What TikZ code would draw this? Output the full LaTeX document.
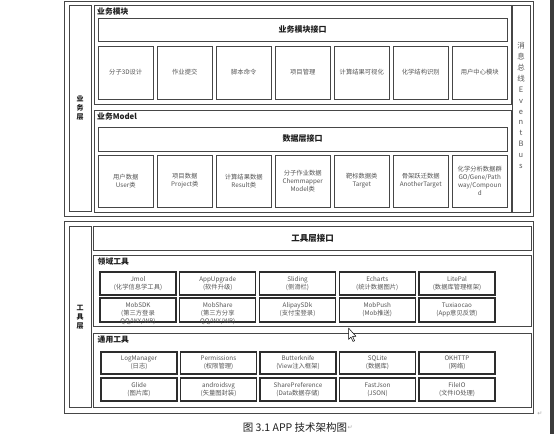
\documentclass[tikz,border=0pt]{standalone}
\usepackage{fontspec}
\setmainfont{Noto Sans CJK SC}
\newfontfamily\symf{DejaVu Sans}
\definecolor{linegray}{RGB}{70,70,70}
\definecolor{darkline}{RGB}{45,45,45}
\definecolor{tilegray}{RGB}{85,85,85}
\definecolor{titlec}{RGB}{30,30,30}
\definecolor{stripc}{RGB}{60,60,60}
\begin{document}
\begin{tikzpicture}[x=1pt,y=-1pt,
  frame/.style={draw=linegray, line width=0.8pt},
  tile/.style={draw=linegray, line width=0.8pt, inner sep=0pt, align=center, text=tilegray,
    font=\fontsize{6.3}{8}\selectfont, minimum width=55.5pt},
  ttile/.style={draw=darkline, line width=1.1pt, inner sep=0pt, align=center, text=tilegray,
    font=\fontsize{6.3}{8}\selectfont, minimum width=76pt},
  iface/.style={draw=linegray, line width=0.8pt, inner sep=0pt, align=center, text=titlec,
    font=\bfseries\fontsize{8}{9}\selectfont},
  boxtitle/.style={anchor=west, inner sep=0pt, text=titlec, font=\bfseries\fontsize{7.8}{9}\selectfont},
  vtext/.style={align=center, inner sep=0pt, text=titlec, font=\bfseries\fontsize{7}{9}\selectfont},
  bustext/.style={align=center, inner sep=0pt, text=tilegray, font=\fontsize{7.5}{10.9}\selectfont},
  retmark/.style={inner sep=0pt, text=gray!70, font=\symf\fontsize{6}{7}\selectfont}
]
\useasboundingbox (0,0) rectangle (555,434);
\fill[white] (0,0) rectangle (555,434);
% screenshot edge strip
\fill[stripc] (549.5,0) rectangle (553.5,434);

% ===== top section =====
\draw[frame] (64.5,1) rectangle (533,216);
\draw[frame] (69,5) rectangle (91,211);
\node[vtext] (bizlayer) at (80,108) {业\\务\\层};
% business module
\draw[frame] (94,5) rectangle (511,104);
\node[boxtitle] (biztitle) at (97,12) {业务模块};
\node[iface, minimum width=409pt, minimum height=23pt] (bizif) at (302.5,29.5) {业务模块接口};
\foreach \t [count=\i from 0] in {分子3D设计,作业提交,脚本命令,项目管理,计算结果可视化,化学结构识别,用户中心模块}{
  \node[tile, minimum height=53pt] (m\i) at (125.75+59*\i,72.5) {\t};
}
% business model
\draw[frame] (94,110) rectangle (511,212);
\node[boxtitle] (modtitle) at (97,116.5) {业务Model};
\node[iface, minimum width=409pt, minimum height=24pt] (dataif) at (302.5,139) {数据层接口};
\node[tile, minimum height=52pt] (d0) at (125.75,181) {用户数据\\User类};
\node[tile, minimum height=52pt] (d1) at (184.75,181) {项目数据\\Project类};
\node[tile, minimum height=52pt] (d2) at (243.75,181) {计算结果数据\\Result类};
\node[tile, minimum height=52pt] (d3) at (302.75,181) {分子作业数据\\Chemmapper\\Model类};
\node[tile, minimum height=52pt] (d4) at (361.75,181) {靶标数据类\\Target};
\node[tile, minimum height=52pt] (d5) at (420.75,181) {骨架跃迁数据\\AnotherTarget};
\node[tile, minimum height=52pt] (d6) at (479.75,181) {化学分析数据群\\GO/Gene/Path\\way/Compoun\\d};
% event bus
\draw[frame] (512,5) rectangle (530,212);
\node[bustext] (bus) at (521,105.5) {消\\息\\总\\线\\E\\v\\e\\n\\t\\B\\u\\s};

% ===== bottom section =====
\draw[frame] (64.5,221) rectangle (533.5,413);
\draw[frame] (69,226) rectangle (91.5,407);
\node[vtext] (toollayer) at (80,317) {工\\具\\层};
\node[iface, minimum width=438pt, minimum height=24.5pt, font=\bfseries\fontsize{8.5}{9}\selectfont] (toolif) at (312.5,238.25) {工具层接口};
% domain tools
\draw[frame] (93.5,255) rectangle (531.5,326);
\node[boxtitle] (domtitle) at (97.5,262) {领域工具};
\node[ttile, minimum height=23pt] (a0) at (138,283.5) {Jmol\\(化学信息学工具)};
\node[ttile, minimum height=23pt] (a1) at (217.75,283.5) {AppUpgrade\\(软件升级)};
\node[ttile, minimum height=23pt] (a2) at (297.5,283.5) {Sliding\\(侧滑栏)};
\node[ttile, minimum height=23pt] (a3) at (377.25,283.5) {Echarts\\(统计数据图片)};
\node[ttile, minimum height=23pt] (a4) at (457,283.5) {LitePal\\(数据库管理框架)};
\node[ttile, minimum height=24pt, text depth=0pt] (b0) at (138,310) {\raisebox{3.5pt}{\begin{tabular}{@{}c@{}}MobSDK\\(第三方登录\\QQ/WX/WB)\end{tabular}}};
\node[ttile, minimum height=24pt, text depth=0pt] (b1) at (217.75,310) {\raisebox{3.5pt}{\begin{tabular}{@{}c@{}}MobShare\\(第三方分享\\QQ/WX/WB)\end{tabular}}};
\node[ttile, minimum height=24pt] (b2) at (297.5,310) {AlipaySDk\\(支付宝登录)};
\node[ttile, minimum height=24pt] (b3) at (377.25,310) {MobPush\\(Mob推送)};
\node[ttile, minimum height=24pt] (b4) at (457,310) {Tuxiaocao\\(App意见反馈)};
% general tools
\draw[frame] (93.5,333) rectangle (531.5,407);
\node[boxtitle] (gentitle) at (97.5,340) {通用工具};
\node[ttile, minimum height=22pt] (g0) at (139,363) {LogManager\\(日志)};
\node[ttile, minimum height=22pt] (g1) at (218.5,363) {Permissions\\(权限管理)};
\node[ttile, minimum height=22pt] (g2) at (298,363) {Butterknife\\(View注入框架)};
\node[ttile, minimum height=22pt] (g3) at (377.5,363) {SQLite\\(数据库)};
\node[ttile, minimum height=22pt] (g4) at (457,363) {OKHTTP\\(网络)};
\node[ttile, minimum height=23pt] (h0) at (139,389.5) {Glide\\(图片库)};
\node[ttile, minimum height=23pt] (h1) at (218.5,389.5) {androidsvg\\(矢量图封装)};
\node[ttile, minimum height=23pt] (h2) at (298,389.5) {SharePreference\\(Data数据存储)};
\node[ttile, minimum height=23pt] (h3) at (377.5,389.5) {FastJson\\(JSON)};
\node[ttile, minimum height=23pt] (h4) at (457,389.5) {FileIO\\(文件IO处理)};

% return marks
\node[retmark] (ret1) at (540,413.5) {↵};
% caption
\node[inner sep=0pt, text=titlec, font=\fontsize{10.5}{12}\selectfont] (caption) at (295,428) {图 3.1 APP 技术架构图};
\node[retmark, anchor=west] (ret2) at (caption.east) {↵};

% mouse cursor
\draw[fill=white, draw=black, line width=0.5pt, line join=round]
  (348.5,328) -- (348.5,339.5) -- (351,337) -- (353,341.5) -- (354.6,340.8) -- (352.6,336.4) -- (356,336.4) -- cycle;
\end{tikzpicture}
\end{document}
